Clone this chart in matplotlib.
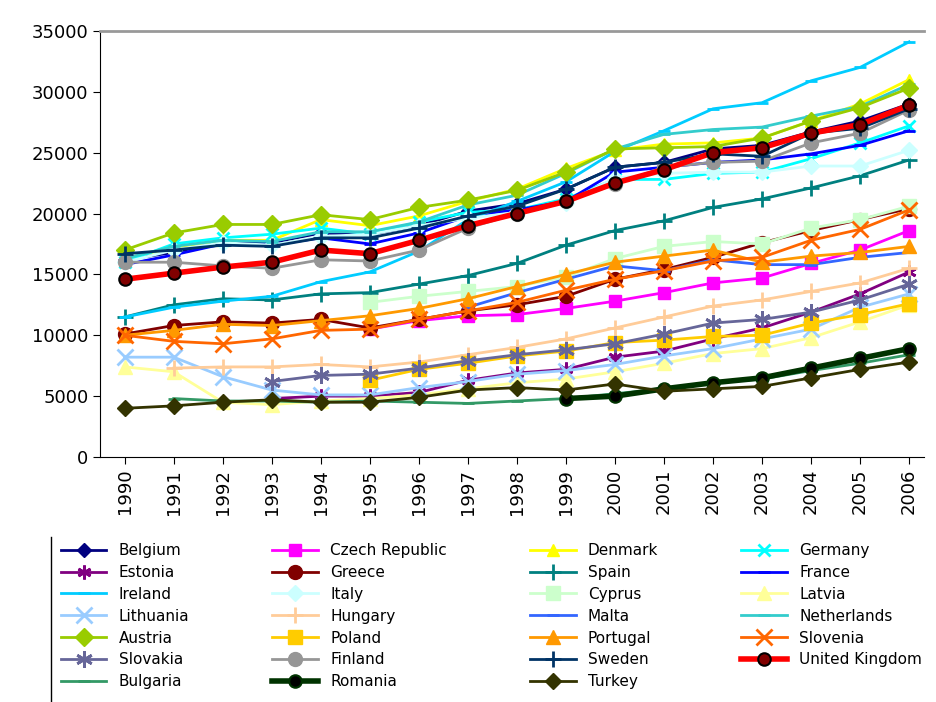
import matplotlib
matplotlib.use("Agg")
import matplotlib.pyplot as plt
import numpy as np

YEARS = list(range(1990, 2007))

belgium = [16200, 16800, 17700, 17600, 18400, 18300, 19000, 20200, 20800, 22000, 23800, 24200, 25300, 25600, 26700, 27600, 29000]
czech = [10500, 11200, 11600, 11700, 12200, 12800, 13500, 14300, 14700, 15900, 17000, 18600]
denmark = [16300, 17200, 17800, 17800, 19500, 19000, 19800, 21000, 22000, 23700, 25200, 25700, 25800, 26200, 27600, 29000, 31000]
germany = [16000, 17500, 18000, 18300, 18800, 18300, 19300, 20100, 20300, 21200, 22800, 22800, 23300, 23400, 24500, 25800, 27200]
estonia = [4800, 5000, 5000, 5300, 6300, 6900, 7200, 8200, 8700, 9700, 10600, 11900, 13400, 15200]
greece = [10100, 10800, 11100, 11000, 11300, 10600, 11300, 12000, 12500, 13200, 14600, 15400, 16400, 17600, 18600, 19500, 20400]
spain = [11500, 12500, 13000, 12900, 13400, 13500, 14200, 14900, 15900, 17400, 18600, 19400, 20500, 21200, 22100, 23100, 24400]
france = [15800, 16600, 17500, 17400, 18000, 17500, 18400, 19800, 20300, 21000, 23400, 23800, 24200, 24400, 24900, 25600, 26800]
ireland = [11500, 12300, 12800, 13200, 14400, 15200, 16900, 19500, 21000, 22600, 25100, 26800, 28600, 29100, 30900, 32000, 34100]
italy = [16000, 17000, 17600, 17400, 18100, 18300, 19000, 19600, 20100, 20900, 22900, 23300, 23400, 23400, 23900, 23900, 25200]
cyprus = [12700, 13200, 13600, 14000, 14800, 16300, 17300, 17700, 17500, 18800, 19500, 20600]
latvia = [7400, 7000, 4500, 4300, 4600, 4800, 5100, 5600, 6100, 6400, 7000, 7700, 8500, 8900, 9800, 11100, 12500]
lithuania = [8200, 8200, 6600, 5500, 5100, 5100, 5700, 6200, 6800, 7100, 7600, 8300, 8900, 9700, 10500, 12300, 13400]
hungary = [7300, 7400, 7400, 7600, 7400, 7800, 8400, 9000, 9700, 10600, 11500, 12400, 12900, 13600, 14300, 15500]
malta = [12300, 13500, 14600, 15700, 15300, 16200, 15800, 15800, 16400, 16800]
netherlands = [16300, 17300, 17800, 17700, 18500, 18500, 19300, 20700, 21500, 23300, 25300, 26500, 26900, 27100, 28000, 28800, 30600]
austria = [17000, 18400, 19100, 19100, 19900, 19500, 20500, 21100, 21900, 23400, 25300, 25400, 25500, 26200, 27600, 28700, 30300]
poland = [6300, 7200, 7700, 8300, 8700, 9400, 9600, 9900, 10000, 11000, 11700, 12600]
portugal = [10000, 10400, 10900, 10800, 11200, 11600, 12200, 13000, 14000, 15000, 16000, 16500, 17000, 16000, 16500, 16800, 17300]
slovenia = [10000, 9500, 9300, 9700, 10400, 10500, 11300, 12000, 12700, 13700, 14600, 15300, 16100, 16400, 17800, 18700, 20300]
slovakia = [6200, 6700, 6800, 7300, 7900, 8400, 8800, 9300, 10100, 11000, 11300, 11900, 12900, 14200]
finland = [16000, 16000, 15700, 15500, 16200, 16100, 17000, 18800, 20000, 21000, 22400, 23800, 24200, 24300, 25800, 26600, 28500]
sweden = [16700, 17000, 17400, 17300, 18000, 18000, 18800, 19800, 20600, 22000, 23800, 24200, 24900, 24700, 26600, 27000, 28600]
uk = [14600, 15100, 15600, 16000, 17000, 16700, 17800, 19000, 20000, 21000, 22500, 23600, 25000, 25400, 26600, 27300, 28900]
bulgaria = [4800, 4600, 4600, 4500, 4600, 4500, 4400, 4600, 4800, 5200, 5600, 6100, 6400, 7100, 7700, 8400]
romania = [4800, 5000, 5600, 6100, 6500, 7300, 8100, 8900]
turkey = [4000, 4200, 4500, 4700, 4500, 4500, 4900, 5500, 5700, 5500, 6000, 5400, 5600, 5800, 6500, 7200, 7800]

# name, values, colour, marker, marker size, line width, (face, edge) override
SERIES = [
    ("Belgium", belgium, "#000080", "D", 7, 2, None),
    ("Czech Republic", czech, "#FF00FF", "s", 9, 2, None),
    ("Denmark", denmark, "#FFFF00", "^", 9, 2, None),
    ("Germany", germany, "#00FFFF", "x", 9, 2, None),
    ("Estonia", estonia, "#800080", (6, 2, 0), 10, 2, None),
    ("Greece", greece, "#800000", "o", 10, 2, None),
    ("Spain", spain, "#008080", "+", 11, 2, None),
    ("France", france, "#0000FF", "_", 8, 2, None),
    ("Ireland", ireland, "#00CCFF", "_", 8, 2, None),
    ("Italy", italy, "#CCFFFF", "D", 8, 2, None),
    ("Cyprus", cyprus, "#CCFFCC", "s", 10, 2, None),
    ("Latvia", latvia, "#FFFF99", "^", 10, 2, None),
    ("Lithuania", lithuania, "#99CCFF", "x", 11, 2, None),
    ("Hungary", hungary, "#FFCC99", "+", 12, 2, None),
    ("Malta", malta, "#3366FF", "_", 8, 2, None),
    ("Netherlands", netherlands, "#33CCCC", "_", 8, 2, None),
    ("Austria", austria, "#99CC00", "D", 9, 2, None),
    ("Poland", poland, "#FFCC00", "s", 10, 2, None),
    ("Portugal", portugal, "#FF9900", "^", 10, 2, None),
    ("Slovenia", slovenia, "#FF6600", "x", 11, 2, None),
    ("Slovakia", slovakia, "#666699", (6, 2, 0), 12, 2, None),
    ("Finland", finland, "#969696", "o", 10, 2, None),
    ("Sweden", sweden, "#003366", "+", 12, 2, None),
    ("United Kingdom", uk, "#FF0000", "o", 9, 4, ("#800000", "black")),
    ("Bulgaria", bulgaria, "#339966", "_", 8, 2, None),
    ("Romania", romania, "#003300", "o", 9, 4, ("black", "#003300")),
    ("Turkey", turkey, "#333300", "D", 8, 2, None),
]

fig = plt.figure(figsize=(9.36, 7.02), dpi=100)
ax = fig.add_axes([0.107, 0.349, 0.88, 0.607])

handles = {}
for name, vals, color, marker, ms, lw, face in SERIES:
    x = YEARS[len(YEARS) - len(vals):]
    thin = marker in ("x", "+", "_") or isinstance(marker, tuple)
    kw = dict(color=color, marker=marker, markersize=ms, linewidth=lw,
              markeredgewidth=2 if thin else 1)
    if face:
        kw.update(markerfacecolor=face[0], markeredgecolor=face[1], markeredgewidth=1.5)
    else:
        kw.update(markerfacecolor=color, markeredgecolor=color)
    (h,) = ax.plot(x, vals, label=name, **kw)
    handles[name] = h

ax.set_xlim(1989.5, 2006.3)
ax.set_ylim(0, 35000)
ax.set_yticks(np.arange(0, 35001, 5000))
ax.set_xticks(YEARS)
ax.set_xticklabels([str(y) for y in YEARS], rotation=90)
ax.tick_params(labelsize=13, direction="out", length=5)
ax.spines["top"].set_color("#999999")
ax.spines["top"].set_linewidth(2)
ax.spines["right"].set_visible(False)

# legend reads row-major with 4 columns; matplotlib fills column-major
names = [s[0] for s in SERIES]
ncol = 4
nrow = int(np.ceil(len(names) / ncol))
order = []
for c in range(ncol):
    for r in range(nrow):
        i = r * ncol + c
        if i < len(names):
            order.append(names[i])
fig.legend([handles[n] for n in order], order, ncol=ncol,
           loc="lower left", bbox_to_anchor=(0.055, 0.005, 0.94, 0.225),
           mode="expand", fontsize=11, frameon=False,
           handlelength=3, labelspacing=0.45, borderaxespad=0.2)
fig.add_artist(plt.Line2D([0.054, 0.054], [0.0, 0.235], color="black", lw=1,
                          transform=fig.transFigure))

fig.savefig("out.png", dpi=100)
